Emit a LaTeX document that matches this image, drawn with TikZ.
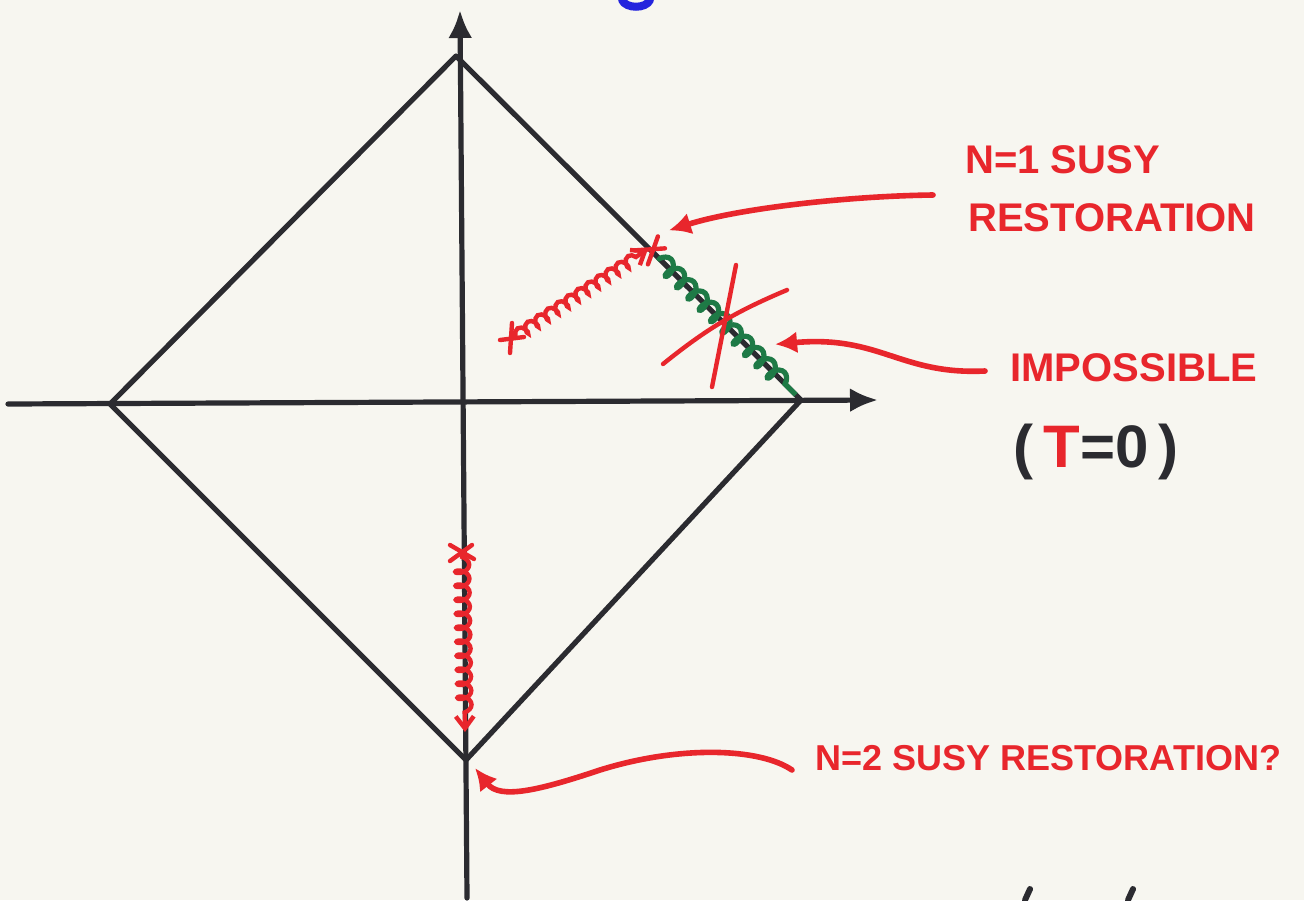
\documentclass[tikz,border=0pt]{standalone}
\usepackage{fontspec}
\setmainfont{Liberation Sans}
\usepackage{tikz}
\usetikzlibrary{positioning, calc, arrows.meta, decorations.pathmorphing}
\definecolor{paper}{HTML}{F7F6F0}
\definecolor{ink}{HTML}{2B2B30}
\definecolor{pen_red}{HTML}{E8262C}
\definecolor{pen_green}{HTML}{1E7A46}
\definecolor{pen_blue}{HTML}{2424DD}

\begin{document}
\begin{tikzpicture}[
    x = 0.5pt, y = -0.5pt,
    > = {Latex[length = 14pt, width = 12pt]},
    ax_line/.style = {
      draw = ink, line width = 2.6pt, line cap = round, ->
    },
    side/.style = {
      draw = ink, line width = 2.6pt, line cap = round, line join = round
    },
    marker/.style = {
      draw = pen_red, line width = 2.2pt, line cap = round
    },
    wiggle_red/.style = {
      draw = pen_red, line width = 2.2pt, decorate,
      decoration = {coil, aspect = 0.6, segment length = 6pt, amplitude = 2.5pt,
        pre length = 2pt, post length = 5pt}
    },
    wiggle_wide/.style = {
      wiggle_red,
      decoration = {coil, aspect = 0.6, segment length = 7pt, amplitude = 3.5pt,
        pre length = 2pt, post length = 5pt}
    },
    wiggle_green/.style = {
      draw = pen_green, line width = 2.6pt, decorate,
      decoration = {coil, aspect = 0.6, segment length = 8pt, amplitude = 4pt,
        pre length = 1pt, post length = 1pt}
    },
    % hand-drawn arrows to the notes
    pointer/.style = {
      draw = pen_red, line width = 2.8pt, line cap = round,
      -{Latex[length = 11pt, width = 11pt]}
    },
    note/.style = {
      text = pen_red, anchor = west, inner sep = 0pt,
      font = \fontsize{20}{24}\selectfont\bfseries
    },
    ]
\fill  [paper]  (0,0)  rectangle  (1304,900);
\useasboundingbox  (0,0)  rectangle  (1304,900);

\node  [coordinate]  (v_top)  at  (456,56)  {};
\node  [coordinate]  (v_left)  at  (110,404)  {};
\node  [coordinate]  (v_right)  at  (801,400)  {};
\node  [coordinate]  (v_bottom)  at  (466,760)  {};
\node  [coordinate]  (y_lo)  at  (467,898)  {};
\node  [coordinate]  (y_hi)  at  (460,10)  {};
\node  [coordinate]  (x_lo)  at  (8,404)  {};
\node  [coordinate]  (x_hi)  at  (878,400)  {};

\draw  [ax_line]  (y_lo)  --  (y_hi);
\draw  [ax_line]  (x_lo)  --  (x_hi);
\draw  [side]  (v_top)  --  (v_right)  --  (v_bottom)  --  (v_left)  --  cycle;

% points on the edge
\node  [coordinate]  (n1_pt)  at  ($(v_top)!0.565!(v_right)$)  {};
\node  [coordinate]  (imp_pt)  at  ($(v_top)!0.78!(v_right)$)  {};
\node  [coordinate]  (g_start)  at  ($(v_top)!0.585!(v_right)$)  {};
\node  [coordinate]  (g_end)  at  ($(v_top)!0.985!(v_right)$)  {};
\node  [coordinate]  (s_start)  at  (512,338)  {};
\node  [coordinate]  (s_end)  at  (648,249)  {};
\node  [coordinate]  (b_start)  at  (462,553)  {};
\node  [coordinate]  (b_end)  at  (465,732)  {};

\draw  [wiggle_green]  (g_start)  --  (g_end);
\draw  [wiggle_red, -{Straight Barb[length = 6pt, width = 9pt]}]  (s_start)  --  (s_end);
\draw  [wiggle_wide, -{Straight Barb[length = 6pt, width = 9pt]}]  (b_start)  --  (b_end);

\draw  [marker]  ($(s_start)+(0,-15)$)  --  ($(s_start)+(-2,15)$);
\draw  [marker]  ($(s_start)+(-12,2)$)  --  ($(s_start)+(12,-1)$);
\draw  [marker]  ($(n1_pt)+(-16,0)$)  --  ($(n1_pt)+(14,-2)$);
\draw  [marker]  ($(n1_pt)+(7,-14)$)  --  ($(n1_pt)+(-3,14)$);
\draw  [marker]  ($(b_start)+(-12,-8)$)  --  ($(b_start)+(12,6)$);
\draw  [marker]  ($(b_start)+(-12,8)$)  --  ($(b_start)+(10,-8)$);

% the big cross
\draw  [marker]  (663,364)  to [bend left = 8]  (787,290);
\draw  [marker]  (736,265)  --  (712,387);

\node  [note]  (n1_susy)  at  (965,160)  {N=1 SUSY};
\node  [note]  (n1_rest)  at  (968,218)  {RESTORATION};
\node  [note]  (imposs)  at  (1010,368)  {IMPOSSIBLE};
\node  [text = ink, font = \fontsize{30}{34}\selectfont\bfseries]  (t_zero)  at  (1096,452)
  {(\,{\color{pen_red}T}=0\,)};
\node  [note, font = \fontsize{18}{22}\selectfont\bfseries]  (n2_susy)  at  (815,758)
  {N=2 SUSY RESTORATION?};

\node  [coordinate]  (n1_tail)  at  (933,195)  {};
\node  [coordinate]  (imp_tail)  at  (985,371)  {};
\node  [coordinate]  (n2_tail)  at  (792,770)  {};
\draw  [pointer]  (n1_tail)  .. controls  (850,196)  and  (740,208)  ..  ($(n1_pt)+(18,-20)$);
\draw  [pointer]  (imp_tail)  .. controls  (900,375)  and  (880,335)  ..  ($(imp_pt)+(50,20)$);
\draw  [pointer]  (n2_tail)  .. controls  (760,748)  and  (680,745)  ..  (600,770)
  .. controls  (540,790)  and  (500,800)  ..  ($(v_bottom)+(9,8)$);

% stray marks
\draw  [pen_blue, line width = 4pt, line cap = round]  (622,0)  .. controls  (626,9)  and  (646,9)  ..  (650,0);
\draw  [ink, line width = 3pt, line cap = round]  (1030,889)  --  (1025,900);
\draw  [ink, line width = 3pt, line cap = round]  (1133,889)  --  (1128,900);
\end{tikzpicture}
\end{document}
